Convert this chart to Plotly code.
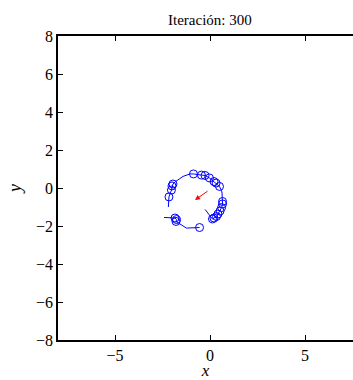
import plotly.graph_objects as go

# Main trajectory arc: positions and whether a marker circle is drawn there
arc_x = [-2.19, -2.16, -2.03, -2.00, -1.95, -1.84, -1.42, -1.05, -0.87, -0.45, -0.26,
         -0.03, 0.21, 0.32, 0.50, 0.63, 0.66, 0.66, 0.61, 0.53, 0.42, 0.34, 0.21, 0.13, -0.26]
arc_y = [-1.00, -0.47, -0.11, 0.11, 0.21, 0.32, 0.61, 0.74, 0.74, 0.68, 0.66,
         0.53, 0.34, 0.26, 0.08, -0.21, -0.71, -0.84, -1.03, -1.21, -1.37, -1.50, -1.58, -1.63, -1.13]
arc_mark = [0, 1, 1, 1, 1, 0, 0, 0, 1, 1, 1,
            1, 1, 1, 1, 0, 1, 1, 1, 1, 1, 1, 1, 1, 0]

# Lower trajectory segment
low_x = [-2.42, -1.84, -1.76, -1.79, -1.24, -0.55]
low_y = [-1.55, -1.58, -1.66, -1.76, -2.11, -2.08]
low_mark = [0, 1, 1, 1, 0, 1]

# Red heading arrow (tail -> head)
arrow_tail = (-0.05, -0.11)
arrow_head = (-0.79, -0.63)

x_ticks = [-5, 0, 5]
y_ticks = [-8, -6, -4, -2, 0, 2, 4, 6, 8]

BLUE = "#0000ff"
RED = "#ff0000"
FONT = "Liberation Serif"

fig = go.Figure()


def add_path(xs, ys, marks):
    fig.add_trace(go.Scatter(x=xs, y=ys, mode="lines",
                             line=dict(color=BLUE, width=1), hoverinfo="skip"))
    mx = [x for x, m in zip(xs, marks) if m]
    my = [y for y, m in zip(ys, marks) if m]
    fig.add_trace(go.Scatter(x=mx, y=my, mode="markers",
                             marker=dict(symbol="circle-open", size=8, color=BLUE,
                                         line=dict(width=1, color=BLUE)),
                             hoverinfo="skip"))


add_path(arc_x, arc_y, arc_mark)
add_path(low_x, low_y, low_mark)

fig.add_annotation(x=arrow_head[0], y=arrow_head[1], ax=arrow_tail[0], ay=arrow_tail[1],
                   xref="x", yref="y", axref="x", ayref="y", text="",
                   showarrow=True, arrowhead=2, arrowsize=1.0, arrowwidth=1,
                   arrowcolor=RED)

fig.add_annotation(x=0, y=1, xref="x", yref="paper", yanchor="bottom", yshift=6,
                   text="Iteración: 300", showarrow=False,
                   font=dict(family=FONT, size=15, color="black"))

px_per_unit = 19
plot_w = 353 - 58
x_max = -8 + plot_w / px_per_unit

tick_font = dict(family=FONT, size=16, color="black")

fig.update_layout(
    width=353, height=380,
    margin=dict(l=58, r=0, t=36, b=40),
    paper_bgcolor="white", plot_bgcolor="white",
    showlegend=False,
    font=dict(family=FONT, size=15, color="black"),
    xaxis=dict(range=[-8, x_max], tickvals=x_ticks, ticks="inside", ticklen=5,
               tickwidth=1, tickcolor="black", showline=True, linecolor="black",
               linewidth=1.5, mirror="ticks", showgrid=False, zeroline=False,
               tickfont=tick_font,
               title=dict(text="<i>x</i>", standoff=3,
                          font=dict(family=FONT, size=17))),
    yaxis=dict(range=[-8, 8], tickvals=y_ticks, ticks="inside", ticklen=5,
               tickwidth=1, tickcolor="black", showline=True, linecolor="black",
               linewidth=1.5, mirror=False, showgrid=False, zeroline=False,
               tickfont=tick_font,
               title=dict(text="<i>y</i>", standoff=10,
                          font=dict(family=FONT, size=18))),
)

fig.write_html("out.html")
